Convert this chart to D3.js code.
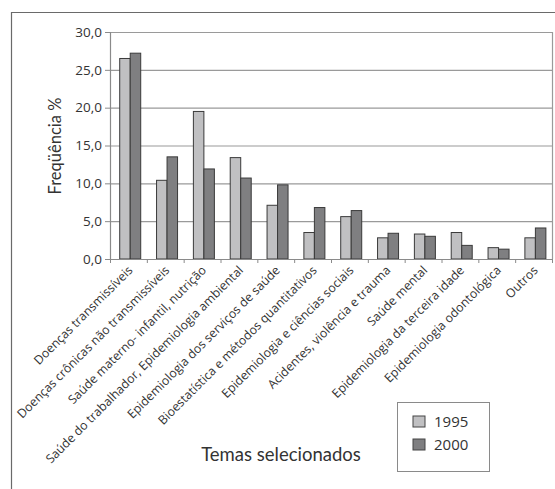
<!DOCTYPE html>
<html><head><meta charset="utf-8">
<script src="https://cdn.jsdelivr.net/npm/d3@7"></script>
<style>
html,body{margin:0;padding:0;background:#fff;}
svg{display:block;font-family:Lato,"Open Sans",sans-serif;}
</style></head>
<body><svg id="c" width="555" height="489"></svg>
<script>
const categories = ["Doenças transmissíveis","Doenças crônicas não transmissíveis","Saúde materno- infantil, nutrição","Saúde do trabalhador, Epidemiologia ambiental","Epidemiologia dos serviços de saúde","Bioestatística e métodos quantitativos","Epidemiologia e ciências sociais","Acidentes, violência e trauma","Saúde mental","Epidemiologia da terceira idade","Epidemiologia odontológica","Outros"];
const series = ["1995","2000"];
const values1995 = [26.5,10.4,19.5,13.4,7.1,3.5,5.6,2.8,3.3,3.5,1.5,2.8];
const values2000 = [27.2,13.5,11.9,10.7,9.8,6.8,6.4,3.4,3.0,1.8,1.3,4.1];
const yTicks = [0,5,10,15,20,25,30];
const colors = {"1995":"#c0c0c2","2000":"#7f7f81"};

const svg = d3.select("#c");
const L=110,R=552,T=32,B=259;
// outer frame
svg.append("path").attr("d","M11.5,489 V12.5 H555").attr("fill","none").attr("stroke","#6a6a6a").attr("stroke-width",1.2);

const x = d3.scaleBand().domain(categories).range([L,R]);
const y = d3.scaleLinear().domain([0,30]).range([B,T]);
const xs = d3.scaleBand().domain(series).range([0,21]);

// gridlines
svg.append("g").selectAll("line").data(yTicks.slice(1)).join("line")
  .attr("x1",L).attr("x2",R).attr("y1",d=>y(d)+0.5).attr("y2",d=>y(d)+0.5)
  .attr("stroke","#9a9a9a").attr("stroke-width",1.2);
// plot right border
svg.append("line").attr("x1",R+0.5).attr("x2",R+0.5).attr("y1",T).attr("y2",B).attr("stroke","#9a9a9a").attr("stroke-width",1.2);

// bars
const data = categories.map((c,i)=>({c, v:[{s:"1995",v:values1995[i]},{s:"2000",v:values2000[i]}]}));
const g = svg.append("g").selectAll("g").data(data).join("g")
  .attr("transform",d=>`translate(${x(d.c)+x.bandwidth()/2-10.5+1.8},0)`);
g.selectAll("rect").data(d=>d.v).join("rect")
  .attr("x",d=>xs(d.s)).attr("width",xs.bandwidth())
  .attr("y",d=>y(d.v)).attr("height",d=>B-y(d.v))
  .attr("fill",d=>colors[d.s]).attr("stroke","#3a3a3a").attr("stroke-width",1);

// y axis
const ya = svg.append("g").attr("transform",`translate(${L},0)`)
  .call(d3.axisLeft(y).tickValues(yTicks).tickSize(5).tickPadding(3).tickFormat(d=>d3.format(".1f")(d).replace(".",",")));
ya.select(".domain").attr("stroke","#8a8a8a").attr("stroke-width",1.2);
ya.selectAll(".tick line").attr("stroke","#8a8a8a");
ya.selectAll("text").attr("font-size",13.5).attr("fill","#333").attr("font-family","'Open Sans',sans-serif");

// x axis
const xa = svg.append("g").attr("transform",`translate(0,${B})`)
  .call(d3.axisBottom(x).tickSize(0).tickFormat(""));
xa.select(".domain").attr("stroke","#8a8a8a").attr("stroke-width",1.2);
svg.append("g").selectAll("line").data(categories).join("line")
  .attr("x1",d=>x(d)+0.5).attr("x2",d=>x(d)+0.5).attr("y1",B).attr("y2",B+4).attr("stroke","#8a8a8a");
svg.append("line").attr("x1",R+0.5).attr("x2",R+0.5).attr("y1",B).attr("y2",B+4).attr("stroke","#8a8a8a");

svg.append("g").selectAll("text").data(categories).join("text")
  .attr("transform",d=>`translate(${x(d)+x.bandwidth()/2+5},${B+12}) rotate(-45)`)
  .attr("text-anchor","end").attr("font-size",12.3).attr("font-family","'Open Sans',sans-serif").attr("fill","#333").text(d=>d);

// axis titles
svg.append("text").attr("transform","translate(61,146) rotate(-90)").attr("text-anchor","middle")
  .attr("font-size",16.5).attr("fill","#333").text("Freqüência %");
svg.append("text").attr("x",281).attr("y",461).attr("text-anchor","middle")
  .attr("font-size",18.5).attr("fill","#333").text("Temas selecionados");

// legend
const lg = svg.append("g");
lg.append("rect").attr("x",397.5).attr("y",402.5).attr("width",92).attr("height",69).attr("fill","#fff").attr("stroke","#8a8a8a");
const li = lg.selectAll("g").data(series).join("g").attr("transform",(d,i)=>`translate(413,${416+i*23})`);
li.append("rect").attr("width",12).attr("height",11).attr("fill",d=>colors[d]).attr("stroke","#444");
li.append("text").attr("x",21).attr("y",10.5).attr("font-size",15).attr("font-family","'Open Sans',sans-serif").attr("fill","#333").text(d=>d);
</script></body></html>
